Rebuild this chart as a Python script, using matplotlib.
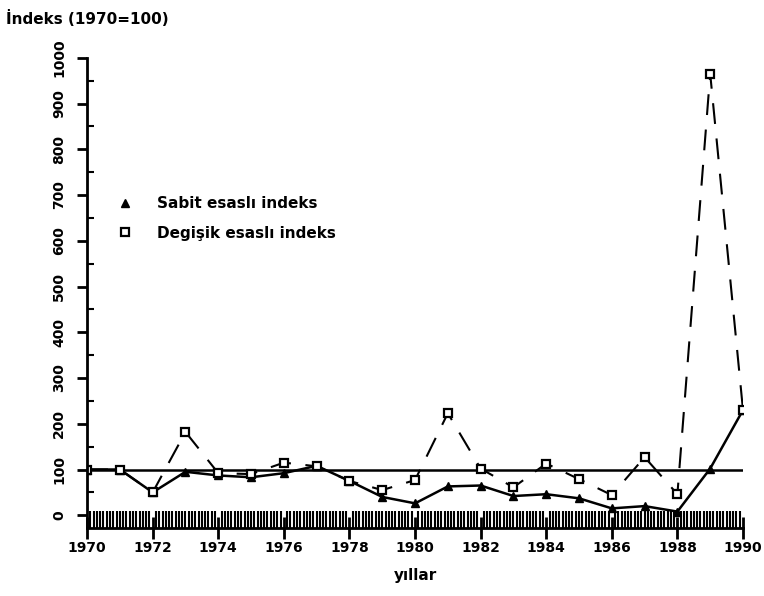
import matplotlib
matplotlib.use("Agg")
import matplotlib.pyplot as plt
import numpy as np

years = list(range(1970, 1991))
sabit = [100, 100, 50, 95, 87, 83, 92, 108, 75, 40, 26, 63, 65, 42, 46, 37, 15, 20, 8, 102, 230]
degisik = [100, 100, 50, 182, 92, 90, 115, 107, 75, 55, 77, 223, 102, 61, 113, 79, 44, 127, 46, 965, 230]
base_value = 100
x_ticks = list(range(1970, 1991, 2))
y_ticks = list(range(0, 1001, 100))

plt.rcParams['font.family'] = ['DejaVu Sans']
plt.rcParams['font.weight'] = 'bold'

fig = plt.figure(figsize=(7.64, 5.96), dpi=100)
ax = fig.add_axes([0.114, 0.114, 0.8585, 0.789])

ax.axhline(base_value, color='black', lw=1.8, xmin=0, xmax=1)
ax.plot(years, sabit, color='black', lw=1.8, marker='^', markersize=6,
        markerfacecolor='black', markeredgecolor='black', label='Sabit esaslı indeks')
ax.plot(years, degisik, color='black', lw=1.5, dashes=(10, 7), marker='s', markersize=6,
        markerfacecolor='white', markeredgecolor='black', markeredgewidth=1.6,
        label='Degişik esaslı indeks')

ax.set_xlim(1970, 1990)
ax.set_ylim(-28, 1000)
ax.spines['top'].set_visible(False)
ax.spines['right'].set_visible(False)
ax.spines['left'].set_linewidth(2)
ax.spines['bottom'].set_linewidth(2)

ax.set_xticks(x_ticks)
ax.set_xticklabels([str(y) for y in x_ticks], fontsize=10, fontweight='bold')
ax.set_xticks(np.arange(1970, 1990.01, 0.1), minor=True)
ax.tick_params(axis='x', which='minor', direction='in', length=12, width=1.5)
ax.tick_params(axis='x', which='major', direction='inout', length=16, width=2, pad=1)

ax.set_yticks(y_ticks)
ax.set_yticklabels([str(v) for v in y_ticks], fontsize=10, fontweight='bold',
                   rotation=90, va='center')
ax.set_yticks(list(range(50, 1000, 100)), minor=True)
ax.tick_params(axis='y', which='major', direction='out', length=7, width=2, pad=8)
ax.tick_params(axis='y', which='minor', direction='in', length=5, width=1.5)

ax.set_xlabel('yıllar', fontsize=11, fontweight='bold', labelpad=10)
fig.text(0.008, 0.96, 'İndeks (1970=100)', fontsize=11, fontweight='bold', ha='left')

leg = ax.legend(loc='upper left', bbox_to_anchor=(0.025, 0.735), frameon=False,
                handlelength=1.0, handletextpad=1.6, labelspacing=0.95,
                prop={'weight': 'bold', 'size': 11}, markerscale=0.85)
for h in leg.legend_handles:
    h.set_linestyle('None')

fig.savefig('out.png', dpi=100)
